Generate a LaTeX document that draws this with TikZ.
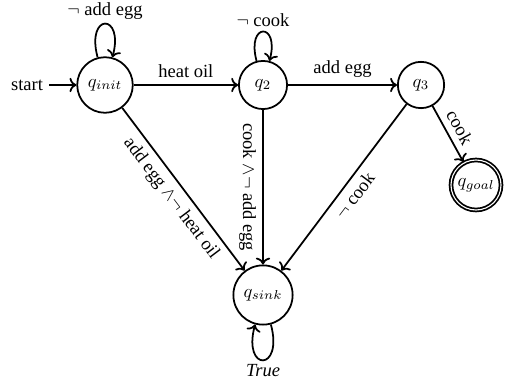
\documentclass[tikz,border=0pt]{standalone}
\usepackage{fontspec}
\setmainfont{Liberation Serif}
\usetikzlibrary{automata,positioning,arrows.meta}
\begin{document}
\begin{tikzpicture}[x=0.54pt,y=-0.54pt,
  every state/.style={draw,line width=0.95pt,circle,inner sep=1pt},
  every edge/.style={draw,line width=0.95pt,->},
  every loop/.style={min distance=6.5mm,looseness=8}]
\useasboundingbox (0,0) rectangle (508,388);
\node[state,minimum size=30pt] (qi) at (105,85) {$q_{init}$};
\node[state,minimum size=26pt] (q2) at (263,85) {$q_2$};
\node[state,minimum size=25pt] (q3) at (421,85) {$q_3$};
\node[state,accepting,minimum size=27pt] (qg) at (476,185) {$q_{goal}$};
\node[state,minimum size=32pt] (qs) at (263,295) {$q_{sink}$};
\node (st) at (27,85) {start};
\draw[line width=0.95pt,->] (st) -- (qi);
\path (qi) edge[loop above] node[above,inner sep=2pt] {$\neg$ add egg} (qi)
      (qi) edge node[above] {heat oil} (q2)
      (q2) edge[loop above] node[above,inner sep=2pt] {$\neg$ cook} (q2)
      (q2) edge node[above] {add egg} (q3)
      (q3) edge node[above,sloped] {cook} (qg)
      (qi) edge node[below,sloped] {add egg $\wedge\neg$ heat oil} (qs)
      (q2) edge node[below,sloped] {cook $\wedge\neg$ add egg} (qs)
      (q3) edge node[below,sloped] {$\neg$ cook} (qs)
      (qs) edge[loop below] node[below,inner sep=2pt] {\textit{True}} (qs);
\end{tikzpicture}
\end{document}
